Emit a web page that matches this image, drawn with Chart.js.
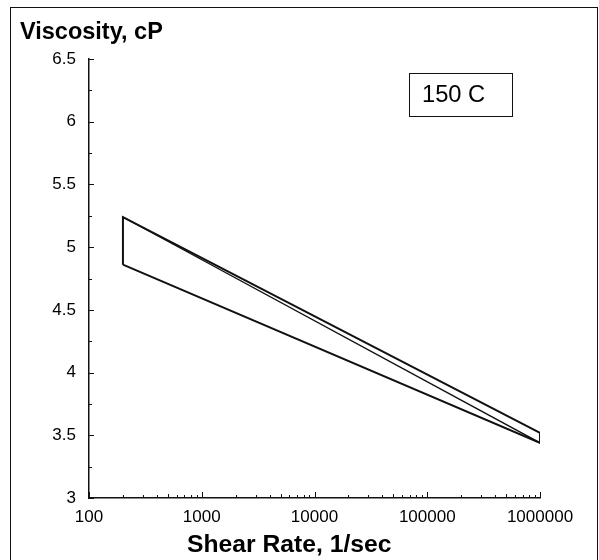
<!DOCTYPE html>
<html>
<head>
<meta charset="utf-8">
<script src="https://cdn.jsdelivr.net/npm/chart.js@4/dist/chart.umd.min.js"></script>
<style>
  body { margin: 0; background: #fff; font-family: "Liberation Sans", Arial, sans-serif; }
  #wrap { position: relative; width: 599px; height: 560px; overflow: hidden; }
  #frame { position: absolute; left: 10px; top: 7px; width: 586px; height: 600px; border: 1.5px solid #111; }
  #chart { position: absolute; left: 0; top: 0; }
  .ytitle { position: absolute; left: 20px; top: 20px; font-size: 23.5px; font-weight: bold; line-height: 23px; }
  .xtitle { position: absolute; left: 187px; top: 532px; font-size: 24.7px; font-weight: bold; line-height: 24px; }
  .tempbox { position: absolute; left: 409px; top: 73px; width: 104px; height: 44px; box-sizing: border-box;
             border: 1.5px solid #111; padding-left: 12px; font-size: 23.7px; line-height: 41px; }
</style>
</head>
<body>
<div id="wrap">
  <div id="frame"></div>
  <canvas id="chart" width="599" height="560"></canvas>
  <div class="ytitle">Viscosity, cP</div>
  <div class="xtitle">Shear Rate, 1/sec</div>
  <div class="tempbox">150 C</div>
</div>
<script>
// shear rate (1/sec) at both ends of the band
const shearRate = [200, 1000000];
// viscosity (cP) at those shear rates
const upperVisc = [5.24, 3.52];
const lowerVisc = [4.86, 3.44];
// axis tick labels
const xTicks = [100, 1000, 10000, 100000, 1000000];
const yTicks = [3, 3.5, 4, 4.5, 5, 5.5, 6, 6.5];

const pt = (x, y) => ({ x: x, y: y });

// outline of the band: left edge, top line, right edge, bottom line
const outline = [
    pt(shearRate[0], lowerVisc[0]),
    pt(shearRate[0], upperVisc[0]),
    pt(shearRate[1], upperVisc[1]),
    pt(shearRate[1], lowerVisc[1]),
    pt(shearRate[0], lowerVisc[0]),
];
const diagonal = [pt(shearRate[0], upperVisc[0]), pt(shearRate[1], lowerVisc[1])];

// inward tick marks, as in the original plot
const innerTicks = {
    id: "innerTicks",
    afterDraw(chart) {
        const ctx = chart.ctx;
        const xs = chart.scales.x;
        const ys = chart.scales.y;
        ctx.save();
        ctx.strokeStyle = "#111";
        ctx.lineWidth = 1;
        ctx.beginPath();
        for (let v = 3; v <= 6.5001; v += 0.25) {
            const y = Math.round(ys.getPixelForValue(v)) + 0.5;
            const len = Math.abs(v * 2 - Math.round(v * 2)) < 0.01 ? 5 : 3;
            ctx.moveTo(xs.left, y);
            ctx.lineTo(xs.left + len, y);
        }
        for (let d = 100; d < 1000000; d *= 10) {
            for (let m = 1; m <= 10; m++) {
                const x = Math.round(xs.getPixelForValue(d * m)) + 0.5;
                const len = (m === 1 || m === 10) ? 6 : (m === 5 ? 4 : 3);
                ctx.moveTo(x, ys.bottom);
                ctx.lineTo(x, ys.bottom - len);
            }
        }
        ctx.stroke();
        ctx.restore();
    },
};

const config = {
    type: "scatter",
    data: {
        datasets: [
            {
                data: outline,
                showLine: true,
                borderColor: "#111",
                borderWidth: 2,
                pointRadius: 0,
                tension: 0,
            },
            {
                data: diagonal,
                showLine: true,
                borderColor: "#111",
                borderWidth: 1.3,
                pointRadius: 0,
                tension: 0,
            },
        ],
    },
    options: {
        responsive: false,
        animation: false,
        layout: { padding: { top: 59, right: 59, left: 0, bottom: 0 } },
        plugins: { legend: { display: false }, tooltip: { enabled: false } },
        scales: {
            x: {
                type: "logarithmic",
                min: 100,
                max: 1000000,
                afterFit(scale) { scale.height = 62; },
                afterBuildTicks(scale) { scale.ticks = xTicks.map(v => ({ value: v })); },
                grid: { display: false, drawTicks: false },
                border: { display: true, color: "#111", width: 1.5 },
                ticks: {
                    color: "#000",
                    padding: 9,
                    maxRotation: 0,
                    autoSkip: false,
                    font: { family: "'Liberation Sans', Arial, sans-serif", size: 17 },
                    callback: v => String(v),
                },
            },
            y: {
                min: 3,
                max: 6.5,
                afterFit(scale) { scale.width = 89; },
                afterBuildTicks(scale) { scale.ticks = yTicks.map(v => ({ value: v })); },
                grid: { display: false, drawTicks: false },
                border: { display: true, color: "#111", width: 1.5 },
                ticks: {
                    color: "#000",
                    padding: 13,
                    font: { family: "'Liberation Sans', Arial, sans-serif", size: 17 },
                    callback: v => String(v),
                },
            },
        },
    },
    plugins: [innerTicks],
};

const viscChart = new Chart(document.getElementById("chart"), config);
</script>
</body>
</html>
